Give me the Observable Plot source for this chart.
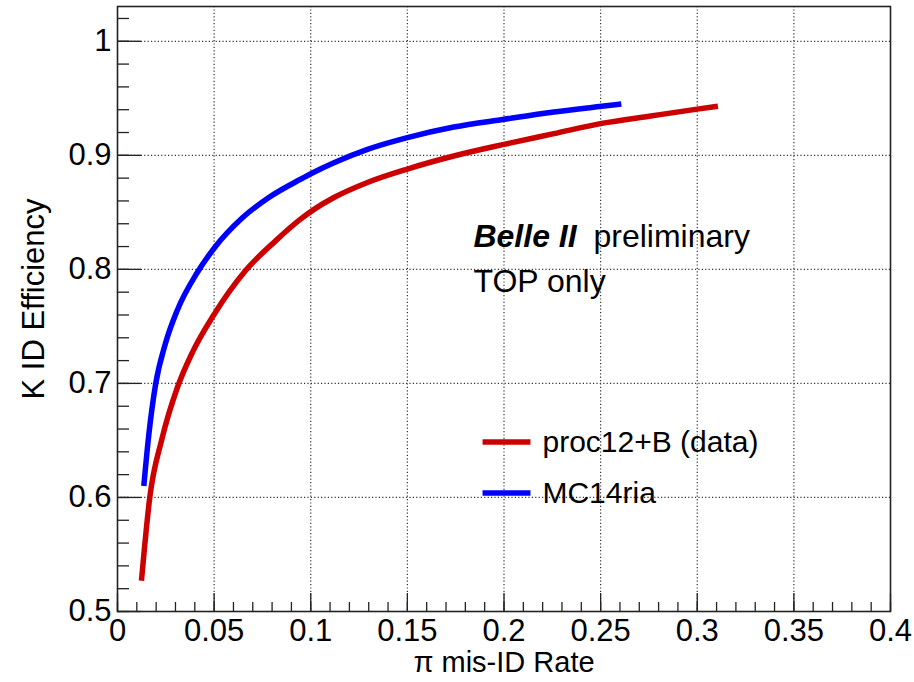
<!DOCTYPE html>
<html>
<head>
<meta charset="utf-8">
<script src="https://cdn.jsdelivr.net/npm/d3@7"></script>
<script src="https://cdn.jsdelivr.net/npm/@observablehq/plot@0.6"></script>
<style>
  html, body { margin: 0; padding: 0; background: #fff; }
  svg { font-family: "Liberation Sans", Arial, Helvetica, sans-serif; }
</style>
</head>
<body>
<div id="chart"></div>
<script>
// ---- data ----
const redX  = [0.0124, 0.0167, 0.0231, 0.0309, 0.0387, 0.0498, 0.0663, 0.0818, 0.0947, 0.1025, 0.112, 0.129, 0.150, 0.174, 0.200, 0.2258, 0.2505, 0.2759, 0.300, 0.3107];
const redY  = [0.527, 0.600, 0.652, 0.696, 0.727, 0.760, 0.799, 0.825, 0.844, 0.8535, 0.863, 0.876, 0.888, 0.8994, 0.9096, 0.919, 0.928, 0.9345, 0.9405, 0.943];
const blueX = [0.0136, 0.0162, 0.0197, 0.0248, 0.0309, 0.0412, 0.0502, 0.0645, 0.0783, 0.0947, 0.1008, 0.112, 0.129, 0.150, 0.174, 0.200, 0.2258, 0.2505, 0.2607];
const blueY = [0.610, 0.655, 0.699, 0.735, 0.764, 0.797, 0.819, 0.845, 0.863, 0.879, 0.8845, 0.8935, 0.905, 0.9155, 0.9248, 0.9316, 0.938, 0.943, 0.945];

const seriesNames  = ["proc12+B (data)", "MC14ria"];
const seriesColors = ["#cc0000", "#0000ff"];

const xMajorTicks = [0, 0.05, 0.1, 0.15, 0.2, 0.25, 0.3, 0.35, 0.4];
const yMajorTicks = [0.5, 0.6, 0.7, 0.8, 0.9, 1];
const xMinorTicks = d3.range(0, 41).map(i => +(i * 0.01).toFixed(2));
const yMinorTicks = d3.range(25, 52).map(i => +(i * 0.02).toFixed(2));
const xGridTicks = [0.05, 0.1, 0.15, 0.2, 0.25, 0.3, 0.35];
const yGridTicks = [0.6, 0.7, 0.8, 0.9, 1];

const xLabel = "π mis-ID Rate";
const yLabel = "K ID Efficiency";

// annotation anchors (data coordinates)
const legendX1 = [0.1889, 0.1889];
const legendX2 = [0.2137, 0.2137];
const legendY  = [0.6487, 0.6040];
const legendTextX = 0.2199;
const belleX = 0.1842, prelimX = 0.2463, belleY = 0.8284, topY = 0.7889;

const curves = [
  ...redX.map((x, i) => ({x, y: redY[i], s: seriesNames[0]})),
  ...blueX.map((x, i) => ({x, y: blueY[i], s: seriesNames[1]}))
];
const legend = seriesNames.map((name, i) => ({name, x1: legendX1[i], x2: legendX2[i], y: legendY[i], c: seriesColors[i]}));

const font = "'Liberation Sans', Arial, Helvetica, sans-serif";
const fmt = d => String(d);

const chart = Plot.plot({
  width: 914,
  height: 682,
  marginLeft: 117,
  marginRight: 24,
  marginTop: 6,
  marginBottom: 71,
  style: {fontFamily: font, background: "#fff", color: "#000"},
  x: {domain: [0, 0.4]},
  y: {domain: [0.5, 1.0305]},
  color: {domain: seriesNames, range: seriesColors},
  marks: [
    Plot.gridX(xGridTicks, {stroke: "#333", strokeOpacity: 1, strokeWidth: 1.2, strokeDasharray: "1.2,2.2"}),
    Plot.gridY(yGridTicks, {stroke: "#333", strokeOpacity: 1, strokeWidth: 1.2, strokeDasharray: "1.2,2.2"}),
    Plot.axisX(xMinorTicks, {tickSize: -9, tickFormat: () => "", label: null, stroke: "#222", strokeWidth: 1.3}),
    Plot.axisX(xMajorTicks, {tickSize: -18, tickFormat: () => "", label: null, stroke: "#222", strokeWidth: 1.3}),
    Plot.axisY(yMinorTicks, {tickSize: -12, tickFormat: () => "", label: null, stroke: "#222", strokeWidth: 1.3}),
    Plot.axisY(yMajorTicks, {tickSize: -24, tickFormat: () => "", label: null, stroke: "#222", strokeWidth: 1.3}),
    Plot.axisX(xMajorTicks, {tickSize: 0, tickPadding: 7, fontSize: 31, label: null, fill: "#000", tickFormat: fmt}),
    Plot.axisY(yMajorTicks, {tickSize: 0, tickPadding: 6, fontSize: 31, label: null, fill: "#000", tickFormat: fmt}),
    Plot.frame({stroke: "#222", strokeWidth: 1.6}),
    Plot.line(curves, {x: "x", y: "y", z: "s", stroke: "s", strokeWidth: 5.5, curve: "monotone-x", strokeLinecap: "butt"}),
    Plot.link(legend, {x1: "x1", x2: "x2", y1: "y", y2: "y", stroke: "c", strokeWidth: 5.5}),
    Plot.text(legend, {x: legendTextX, y: "y", text: "name", textAnchor: "start", fontSize: 30, fill: "#000"}),
    Plot.text(["Belle II"], {x: belleX, y: belleY, textAnchor: "start", fontSize: 32, fontWeight: "bold", fontStyle: "italic", fill: "#000"}),
    Plot.text(["preliminary"], {x: prelimX, y: belleY, textAnchor: "start", fontSize: 32, fill: "#000"}),
    Plot.text(["TOP only"], {x: belleX, y: topY, textAnchor: "start", fontSize: 32, fill: "#000"}),
    Plot.text([xLabel], {frameAnchor: "bottom", textAnchor: "middle", lineAnchor: "bottom", dy: 60, fontSize: 29, fill: "#000"}),
    Plot.text([yLabel], {frameAnchor: "left", textAnchor: "middle", lineAnchor: "bottom", rotate: -90, dx: -74, dy: -10, fontSize: 31, fill: "#000"})
  ]
});
document.getElementById("chart").appendChild(chart);
</script>
</body>
</html>
